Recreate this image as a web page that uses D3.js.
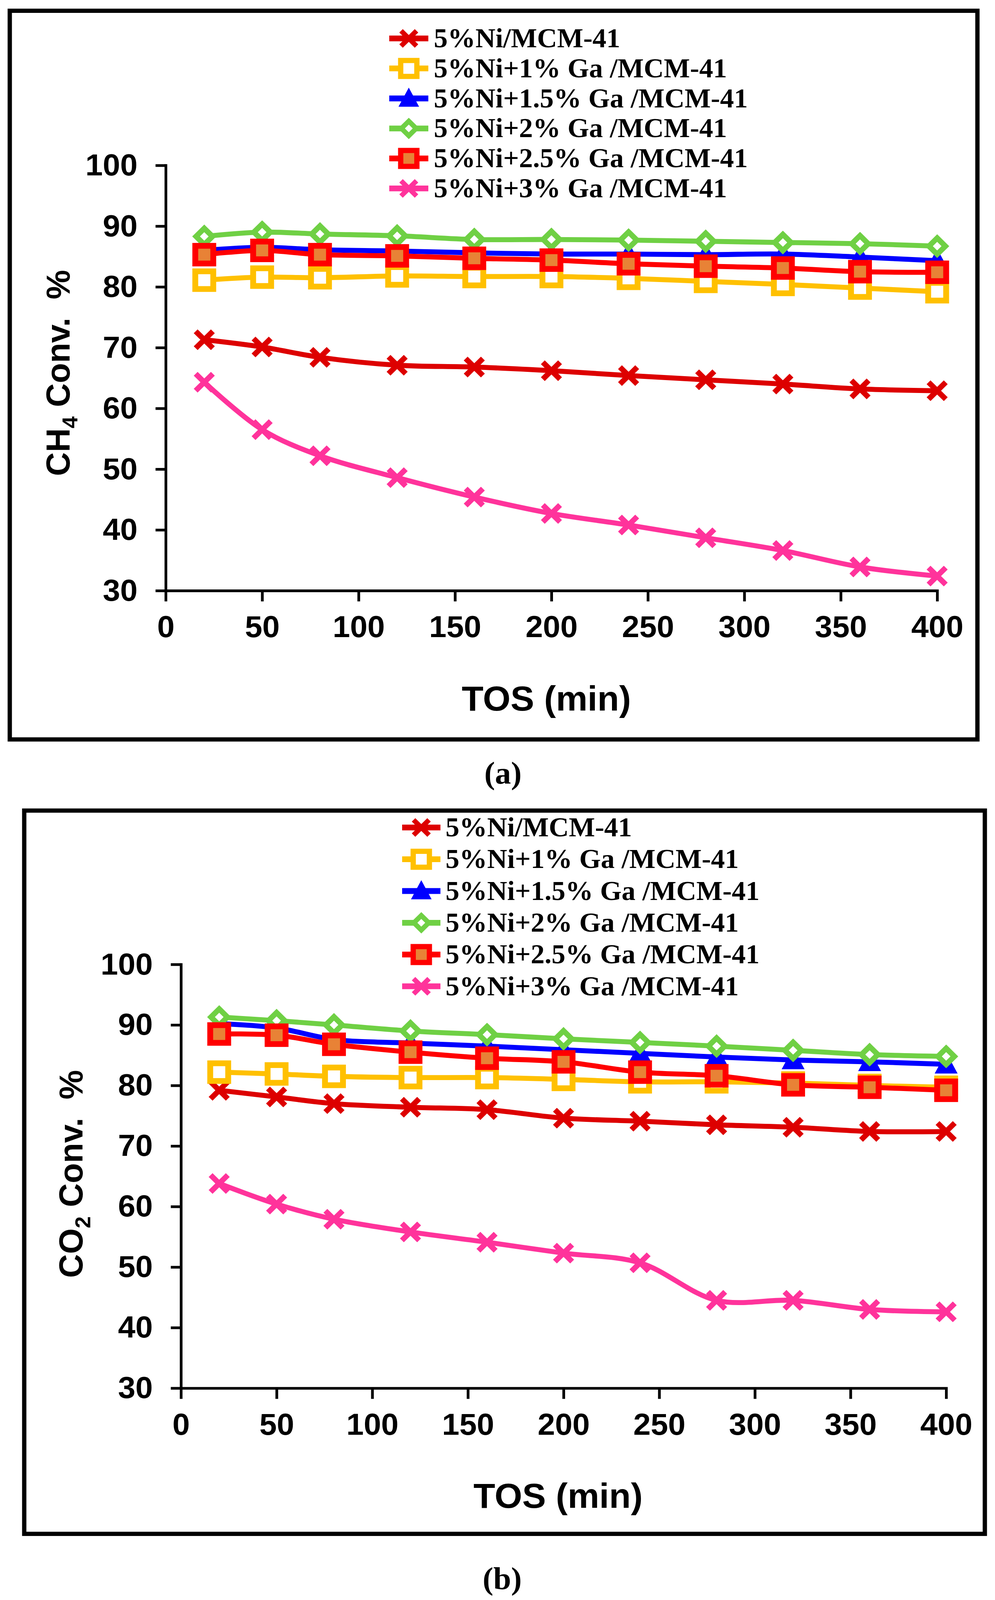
<!DOCTYPE html>
<html>
<head>
<meta charset="utf-8">
<script src="https://cdn.jsdelivr.net/npm/d3@7"></script>
<style>
  html, body { margin: 0; padding: 0; overflow: hidden; background: #fff; }
  svg { display: block; width: 100vw; height: 100vh; }
</style>
</head>
<body>
<svg id="fig" viewBox="0 0 2546 4161" preserveAspectRatio="none"></svg>
<script>
// time on stream (min)
const tos = [20, 50, 80, 120, 160, 200, 240, 280, 320, 360, 400];
const xTicks = [0, 50, 100, 150, 200, 250, 300, 350, 400];
const yTicks = [30, 40, 50, 60, 70, 80, 90, 100];
const seriesLabels = ['5%Ni/MCM-41', '5%Ni+1% Ga /MCM-41', '5%Ni+1.5% Ga /MCM-41',
  '5%Ni+2% Ga /MCM-41', '5%Ni+2.5% Ga /MCM-41', '5%Ni+3% Ga /MCM-41'];

// (a) CH4 conversion %
const ch4Ni   = [71.3, 70.1, 68.4, 67.1, 66.8, 66.2, 65.4, 64.7, 64.0, 63.2, 62.9];
const ch4Ga1  = [81.1, 81.6, 81.5, 81.8, 81.7, 81.7, 81.4, 80.9, 80.4, 79.8, 79.2];
const ch4Ga15 = [86.0, 86.5, 86.1, 85.9, 85.6, 85.4, 85.4, 85.3, 85.4, 84.9, 84.3];
const ch4Ga2  = [88.3, 89.0, 88.7, 88.4, 87.8, 87.8, 87.7, 87.5, 87.3, 87.1, 86.7];
const ch4Ga25 = [85.3, 86.0, 85.3, 85.1, 84.7, 84.4, 83.8, 83.4, 83.1, 82.5, 82.4];
const ch4Ga3  = [64.3, 56.5, 52.2, 48.6, 45.4, 42.7, 40.8, 38.7, 36.6, 33.9, 32.4];

// (b) CO2 conversion %
const co2Ni   = [79.2, 78.1, 77.0, 76.4, 76.0, 74.6, 74.1, 73.5, 73.1, 72.4, 72.4];
const co2Ga1  = [82.2, 81.9, 81.5, 81.3, 81.3, 81.0, 80.6, 80.6, 80.4, 80.0, 79.7];
const co2Ga15 = [90.2, 89.5, 87.6, 87.0, 86.5, 85.9, 85.3, 84.7, 84.2, 83.9, 83.5];
const co2Ga2  = [91.3, 90.7, 90.0, 89.0, 88.4, 87.7, 87.1, 86.5, 85.8, 85.1, 84.8];
const co2Ga25 = [88.5, 88.3, 86.8, 85.5, 84.5, 83.9, 82.2, 81.6, 80.1, 79.7, 79.2];
const co2Ga3  = [63.8, 60.4, 57.9, 55.8, 54.1, 52.3, 50.7, 44.5, 44.5, 43.0, 42.6];

const styles = [
  { color: '#DD0000', marker: 'cross' },
  { color: '#FFC000', marker: 'square', fill: '#fff' },
  { color: '#0000FF', marker: 'triangle' },
  { color: '#6FD044', marker: 'diamond', fill: '#fff' },
  { color: '#FF0000', marker: 'square', fill: '#E88236' },
  { color: '#FF339B', marker: 'cross' }
];

const svg = d3.select('#fig');
svg.append('rect').attr('width', 2546).attr('height', 4161).attr('fill', '#fff');

const sans = "'Liberation Sans', Arial, sans-serif";
const serif = "'Liberation Serif', 'Times New Roman', serif";

function drawMarker(g, st, k) {
  if (st.marker === 'cross') {
    const s = 22 * k;
    g.append('path')
      .attr('d', `M${-s},${-s}L${s},${s}M${-s},${s}L${s},${-s}`)
      .attr('stroke', st.color).attr('stroke-width', 14 * k).attr('fill', 'none');
  } else if (st.marker === 'square') {
    const s = 23 * k;
    g.append('rect')
      .attr('x', -s).attr('y', -s).attr('width', 2 * s).attr('height', 2 * s)
      .attr('fill', st.fill).attr('stroke', st.color).attr('stroke-width', 15 * k);
  } else if (st.marker === 'triangle') {
    g.append('path')
      .attr('d', `M0,${-27 * k}L${26 * k},${22 * k}L${-26 * k},${22 * k}Z`)
      .attr('fill', st.color).attr('stroke', st.color).attr('stroke-width', 4 * k);
  } else if (st.marker === 'diamond') {
    const s = 21 * k;
    g.append('path')
      .attr('d', `M0,${-s}L${s},0L0,${s}L${-s},0Z`)
      .attr('fill', st.fill).attr('stroke', st.color).attr('stroke-width', 14 * k);
  }
}

function panel(cfg) {
  // frame
  svg.append('rect')
    .attr('x', cfg.frame[0]).attr('y', cfg.frame[1])
    .attr('width', cfg.frame[2] - cfg.frame[0]).attr('height', cfg.frame[3] - cfg.frame[1])
    .attr('fill', 'none').attr('stroke', '#000').attr('stroke-width', 11);

  const x = d3.scaleLinear().domain([0, 400]).range([cfg.left, cfg.right]);
  const y = d3.scaleLinear().domain([30, 100]).range([cfg.bottom, cfg.top]);

  const xAxis = svg.append('g')
    .attr('transform', `translate(0,${cfg.bottom})`)
    .call(d3.axisBottom(x).tickValues(xTicks).tickSize(28).tickSizeOuter(0).tickPadding(36));
  const yAxis = svg.append('g')
    .attr('transform', `translate(${cfg.left},0)`)
    .call(d3.axisLeft(y).tickValues(yTicks).tickSize(26).tickSizeOuter(0).tickPadding(46));

  [xAxis, yAxis].forEach(ax => {
    ax.select('.domain').attr('stroke-width', 7).attr('stroke-linecap', 'square');
    ax.selectAll('.tick line').attr('stroke-width', 7);
    ax.selectAll('.tick text')
      .attr('font-family', sans).attr('font-size', 80).attr('font-weight', 'bold').attr('fill', '#000');
  });

  const line = d3.line()
    .x(d => x(d[0]))
    .y(d => y(d[1]))
    .curve(d3.curveCatmullRom.alpha(0.5));

  cfg.values.forEach((vals, i) => {
    const st = styles[i];
    const pts = tos.map((t, j) => [t, vals[j]]);
    svg.append('path')
      .attr('d', line(pts))
      .attr('fill', 'none').attr('stroke', st.color).attr('stroke-width', 13)
      .attr('stroke-linejoin', 'round');
    svg.append('g').selectAll('g')
      .data(pts)
      .enter().append('g')
      .attr('transform', d => `translate(${x(d[0])},${y(d[1])})`)
      .each(function () { drawMarker(d3.select(this), st, 1); });
  });

  // legend
  seriesLabels.forEach((lab, i) => {
    const st = styles[i];
    const ly = cfg.legY + i * cfg.legDy;
    svg.append('line')
      .attr('x1', cfg.legX1).attr('x2', cfg.legX2).attr('y1', ly).attr('y2', ly)
      .attr('stroke', st.color).attr('stroke-width', 15);
    const mg = svg.append('g').attr('transform', `translate(${(cfg.legX1 + cfg.legX2) / 2},${ly})`);
    drawMarker(mg, st, 0.9);
    svg.append('text')
      .attr('x', cfg.legText).attr('y', ly + 23)
      .attr('font-family', serif).attr('font-size', 71).attr('font-weight', 'bold')
      .text(lab);
  });

  // y title with subscript
  const yt = svg.append('text')
    .attr('transform', `translate(${cfg.yTitleX},${cfg.yTitleY}) rotate(-90)`)
    .attr('text-anchor', 'middle')
    .attr('font-family', sans).attr('font-size', 86).attr('font-weight', 'bold')
    .attr('xml:space', 'preserve');
  yt.append('tspan').text(cfg.yTitle[0]);
  yt.append('tspan').attr('font-size', 56).attr('dy', 20).text(cfg.yTitle[1]);
  yt.append('tspan').attr('dy', -20).text(cfg.yTitle[2]);

  svg.append('text')
    .attr('x', cfg.xTitleX).attr('y', cfg.xTitleY)
    .attr('text-anchor', 'middle')
    .attr('font-family', sans).attr('font-size', 91).attr('font-weight', 'bold')
    .text('TOS (min)');

  svg.append('text')
    .attr('x', cfg.capX).attr('y', cfg.capY)
    .attr('text-anchor', 'middle')
    .attr('font-family', serif).attr('font-size', 82).attr('font-weight', 'bold')
    .text(cfg.caption);
}

panel({
  frame: [25, 28, 2501, 1923],
  left: 424, right: 2398, top: 430, bottom: 1536,
  values: [ch4Ni, ch4Ga1, ch4Ga15, ch4Ga2, ch4Ga25, ch4Ga3],
  legX1: 996, legX2: 1096, legText: 1110, legY: 100, legDy: 78,
  yTitle: ['CH', '4', ' Conv.  %'], yTitleX: 178, yTitleY: 970,
  xTitleX: 1398, xTitleY: 1848,
  caption: '(a)', capX: 1287, capY: 2038
});

panel({
  frame: [62, 2108, 2520, 3989],
  left: 463, right: 2421, top: 2508, bottom: 3610,
  values: [co2Ni, co2Ga1, co2Ga15, co2Ga2, co2Ga25, co2Ga3],
  legX1: 1029, legX2: 1127, legText: 1140, legY: 2152, legDy: 82.6,
  yTitle: ['CO', '2', ' Conv.  %'], yTitleX: 211, yTitleY: 3053,
  xTitleX: 1428, xTitleY: 3921,
  caption: '(b)', capX: 1285, capY: 4133
});
</script>
</body>
</html>
